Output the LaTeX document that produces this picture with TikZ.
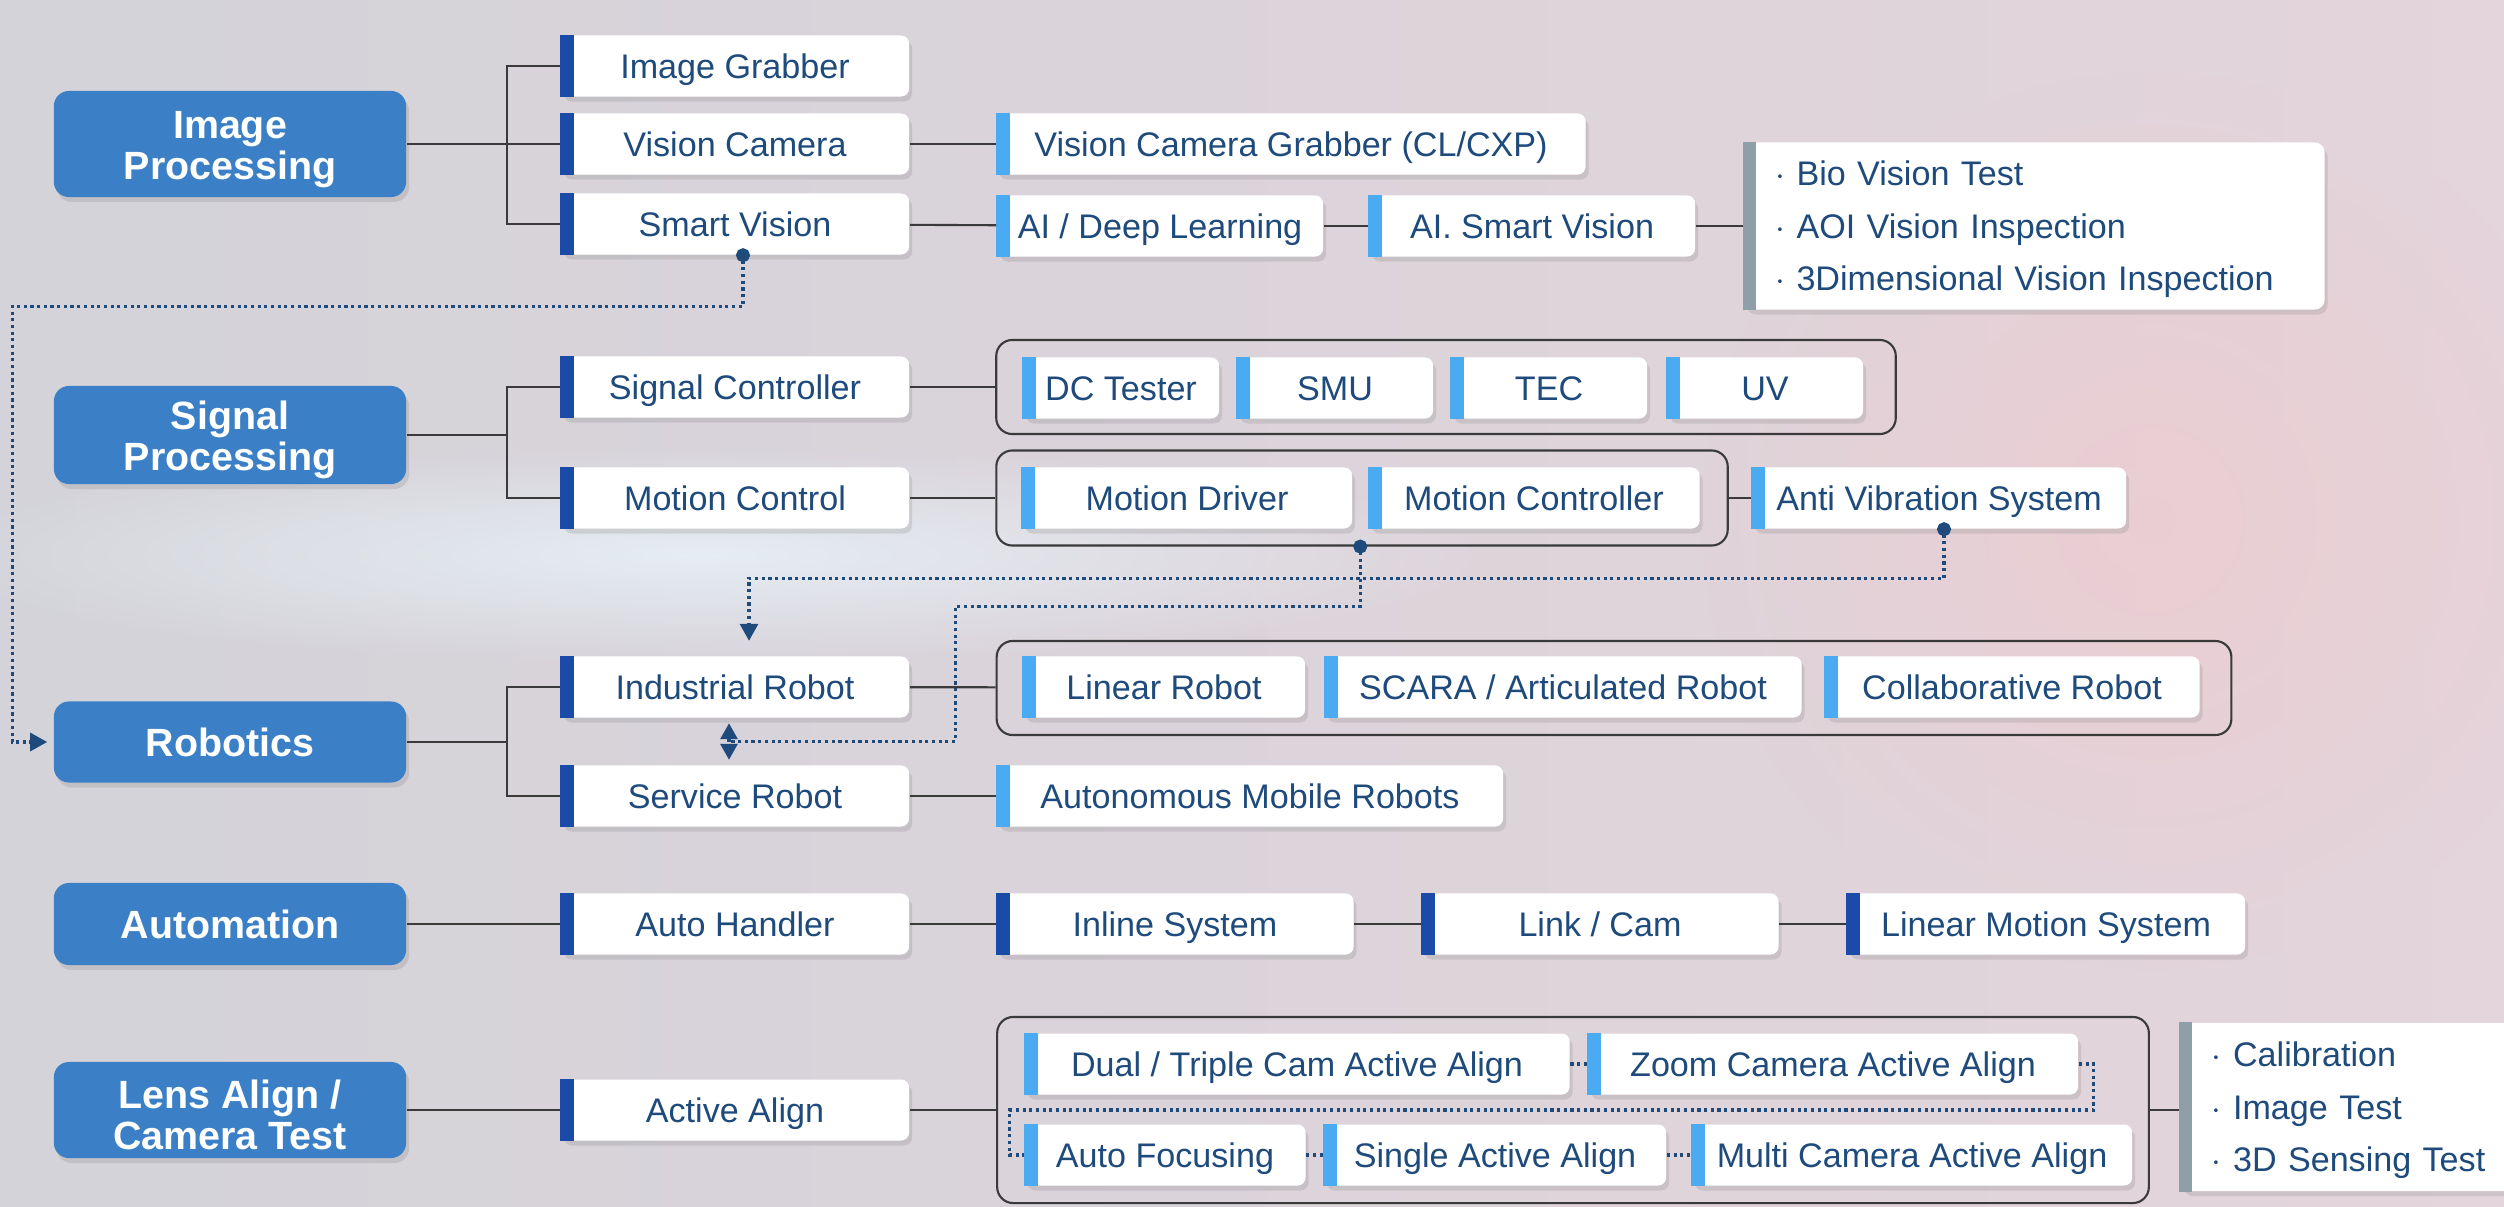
\documentclass[tikz,border=0pt]{standalone}
\usepackage{fontspec}
\setmainfont{Liberation Sans}
\usepackage{xcolor}
\usetikzlibrary{arrows.meta, positioning, calc, shadows, fadings}

\definecolor{catblue}{HTML}{3B80C6}
\definecolor{darkbar}{HTML}{1B4BA8}
\definecolor{lightbar}{HTML}{4BABF2}
\definecolor{notebar}{HTML}{8F9FA9}
\definecolor{navy}{HTML}{1E4A7C}
\definecolor{linegray}{HTML}{3A3A3A}
\definecolor{bgleft}{HTML}{D3D3D9}
\definecolor{bgright}{HTML}{E4D4DB}
\definecolor{haze}{HTML}{EAF6FB}

\tikzfading[name=glow, inner color=transparent!0, outer color=transparent!100]

\newcommand{\headfont}{\fontsize{11.2}{11.8}\selectfont\bfseries}
\newcommand{\itemfont}{\fontsize{9.7}{11}\selectfont}
\newcommand{\notefont}{\fontsize{9.7}{14.9}\selectfont}

\tikzset{
    softshadow/.style={drop shadow={shadow xshift=0.03cm, shadow yshift=-0.05cm, opacity=0.22}},
    category/.style={rectangle, rounded corners=0.15cm, fill=catblue, text=white, font=\headfont, align=center, minimum width=3.52cm, inner sep=0pt, softshadow},
    item/.style={rectangle, rounded corners=0.08cm, fill=white, text=navy, font=\itemfont, minimum height=0.61cm, inner sep=0pt, text height=6.9pt, text depth=0pt, softshadow},
    branch/.style={item, minimum width=3.48cm},
    groupbox/.style={rectangle, rounded corners=0.16cm, draw=linegray, line width=0.6pt, inner sep=0pt},
    notebox/.style={rectangle, rounded corners=0.1cm, fill=white, text=navy, font=\notefont, align=left, inner xsep=0.32cm, inner ysep=0pt, softshadow},
    link/.style={draw=linegray, line width=0.6pt},
    dotlink/.style={draw=navy, densely dotted, line width=0.9pt},
    dotarrow/.style={dotlink, {Circle[length=0.14cm]}-{Triangle[length=0.17cm, width=0.18cm]}}
}

\begin{document}
\begin{tikzpicture}[x=0.01cm, y=-0.01cm]
    \useasboundingbox (0,0) rectangle (2504,1206);

    % Backdrop
    \fill[left color=bgleft, right color=bgright] (0,0) rectangle (2504,1206);
    \fill[haze, opacity=0.75, path fading=glow] (700,555) ellipse [x radius=8cm, y radius=1.1cm];
    \fill[pink, opacity=0.3, path fading=glow] (2150,520) circle [radius=4.5cm];

    % Categories
    \node[category, minimum height=1.06cm] (imgproc) at (230,144) {\rule{0pt}{11pt}Image\\Processing};
    \node[category, minimum height=0.98cm] (sigproc) at (230,435) {\rule{0pt}{11pt}Signal\\Processing};
    \node[category, minimum height=0.81cm] (robotics) at (230,742) {Robotics};
    \node[category, minimum height=0.82cm] (automation) at (230,924) {Automation};
    \node[category, minimum height=0.96cm] (lensalign) at (230,1110) {\rule{0pt}{11pt}Lens Align /\\Camera Test};

    % Group frames
    \node[groupbox, minimum width=8.99cm, minimum height=0.94cm] (sigframe) at (1446,387) {};
    \node[groupbox, minimum width=7.31cm, minimum height=0.95cm] (motionframe) at (1362,498) {};
    \node[groupbox, minimum width=12.34cm, minimum height=0.94cm] (robotframe) at (1614,688) {};
    \node[groupbox, minimum width=11.51cm, minimum height=1.86cm] (lensframe) at (1573,1110) {};

    % Image Processing
    \node[branch] (grabber) at (735,66) {Image Grabber};
    \node[branch] (viscam) at (735,144) {Vision Camera};
    \node[branch] (smartvis) at (735,224) {Smart Vision};
    \node[item, minimum width=5.89cm] (camgrabber) at (1291,144) {Vision Camera Grabber (CL/CXP)};
    \node[item, minimum width=3.26cm] (deeplearn) at (1160,226) {AI / Deep Learning};
    \node[item, minimum width=3.26cm] (aismart) at (1532,226) {AI. Smart Vision};
    \node[notebox, text width=5.17cm, minimum height=1.67cm] (visiontests) at (2034,226)
        {\rule{0pt}{9pt}$\cdot$ Bio Vision Test\\$\cdot$ AOI Vision Inspection\\$\cdot$ 3Dimensional Vision Inspection};

    % Signal Processing
    \node[branch] (sigctrl) at (735,387) {Signal Controller};
    \node[branch] (motionctrl) at (735,498) {Motion Control};
    \node[item, minimum width=1.96cm] (dctester) at (1121,388) {DC Tester};
    \node[item, minimum width=1.96cm] (smu) at (1335,388) {SMU};
    \node[item, minimum width=1.96cm] (tec) at (1549,388) {TEC};
    \node[item, minimum width=1.96cm] (uv) at (1765,388) {UV};
    \node[item, minimum width=3.30cm] (motiondriver) at (1187,498) {Motion Driver};
    \node[item, minimum width=3.31cm] (motioncontroller) at (1534,498) {Motion Controller};
    \node[item, minimum width=3.74cm] (antivib) at (1939,498) {Anti Vibration System};

    % Robotics
    \node[branch] (indrobot) at (735,687) {Industrial Robot};
    \node[branch] (servrobot) at (735,796) {Service Robot};
    \node[item, minimum width=2.82cm] (linrobot) at (1164,687) {Linear Robot};
    \node[item, minimum width=4.77cm] (scara) at (1563,687) {SCARA / Articulated Robot};
    \node[item, minimum width=3.75cm] (collab) at (2012,687) {Collaborative Robot};
    \node[item, minimum width=5.06cm] (amr) at (1250,796) {Autonomous Mobile Robots};

    % Automation
    \node[branch] (autohandler) at (735,924) {Auto Handler};
    \node[item, minimum width=3.57cm] (inline) at (1175,924) {Inline System};
    \node[item, minimum width=3.57cm] (linkcam) at (1600,924) {Link / Cam};
    \node[item, minimum width=3.98cm] (linmotion) at (2046,924) {Linear Motion System};

    % Lens Align / Camera Test
    \node[branch] (activealign) at (735,1110) {Active Align};
    \node[item, minimum width=5.45cm] (dualcam) at (1297,1064) {Dual / Triple Cam Active Align};
    \node[item, minimum width=4.90cm] (zoomcam) at (1833,1064) {Zoom Camera Active Align};
    \node[item, minimum width=2.81cm] (autofocus) at (1165,1155) {Auto Focusing};
    \node[item, minimum width=3.42cm] (singlealign) at (1495,1155) {Single Active Align};
    \node[item, minimum width=4.40cm] (multicam) at (1912,1155) {Multi Camera Active Align};
    \node[notebox, text width=2.76cm, minimum height=1.68cm] (camtests) at (2350,1107)
        {\rule{0pt}{9pt}$\cdot$ Calibration\\$\cdot$ Image Test\\$\cdot$ 3D Sensing Test};

    % Side bars
    \foreach \n in {grabber, viscam, smartvis, sigctrl, motionctrl, indrobot, servrobot,
                    autohandler, activealign, inline, linkcam, linmotion}
        \fill[darkbar] (\n.south west) rectangle ([xshift=0.14cm]\n.north west);
    \foreach \n in {camgrabber, deeplearn, aismart, dctester, smu, tec, uv, motiondriver,
                    motioncontroller, antivib, linrobot, scara, collab, amr,
                    dualcam, zoomcam, autofocus, singlealign, multicam}
        \fill[lightbar] (\n.south west) rectangle ([xshift=0.14cm]\n.north west);
    \foreach \n in {visiontests, camtests}
        \fill[notebar] (\n.south west) rectangle ([xshift=0.13cm]\n.north west);

    % Tree links
    \draw[link] (imgproc.east) -- ++(100,0) |- (grabber);
    \draw[link] (imgproc.east) -- ++(100,0) |- (smartvis);
    \draw[link] (imgproc) -- (viscam);
    \draw[link] (sigproc.east) -- ++(100,0) |- (sigctrl);
    \draw[link] (sigproc.east) -- ++(100,0) |- (motionctrl);
    \draw[link] (robotics.east) -- ++(100,0) |- (indrobot);
    \draw[link] (robotics.east) -- ++(100,0) |- (servrobot);

    % Links between items
    \draw[link] (viscam) -- (camgrabber);
    \draw[link] (smartvis) -- (deeplearn);
    \draw[link] (deeplearn) -- (aismart);
    \draw[link] (aismart) -- (aismart -| visiontests.west);
    \draw[link] (sigctrl) -- (sigctrl -| sigframe.west);
    \draw[link] (motionctrl) -- (motionframe);
    \draw[link] (motionframe) -- (antivib);
    \draw[link] (indrobot) -- (robotframe);
    \draw[link] (servrobot) -- (amr);
    \draw[link] (automation) -- (autohandler);
    \draw[link] (autohandler) -- (inline);
    \draw[link] (inline) -- (linkcam);
    \draw[link] (linkcam) -- (linmotion);
    \draw[link] (lensalign) -- (activealign);
    \draw[link] (activealign) -- (lensframe);
    \draw[link] (lensframe) -- (camtests.west |- lensframe);

    % Dotted cross links
    \coordinate (mgap) at ($(motiondriver.east)!.5!(motioncontroller.west)$);
    \coordinate (rjoint) at ($([xshift=-0.06cm]indrobot.south)!.5!([xshift=-0.06cm]servrobot.north)$);
    \draw[dotarrow] ([xshift=0.08cm, yshift=0.07cm]smartvis.south) -- ++(0,58)
        -| ([xshift=-0.41cm]robotics.west) -- ([xshift=-0.06cm]robotics.west);
    \draw[dotlink, {Circle[length=0.14cm]}-] ([yshift=0.07cm]mgap |- motionframe.south) -- ++(0,67)
        -| ([xshift=2.26cm]rjoint) -- (rjoint);
    \draw[dotarrow] ([xshift=0.05cm, yshift=0.07cm]antivib.south) -- ++(0,56)
        -| ([xshift=0.14cm, yshift=0.15cm]indrobot.north);
    \draw[dotlink, {Triangle[length=0.16cm, width=0.17cm]}-{Triangle[length=0.16cm, width=0.17cm]}]
        ([xshift=-0.06cm, yshift=-0.05cm]indrobot.south) -- ([xshift=-0.06cm, yshift=0.05cm]servrobot.north);

    \draw[dotlink] (dualcam) -- (zoomcam);
    \draw[dotlink] (zoomcam.east) -- ++(15,0) |- (lensframe.center)
        -| ([xshift=-0.14cm]autofocus.west) -- (autofocus.west);
    \draw[dotlink] (autofocus) -- (singlealign);
    \draw[dotlink] (singlealign) -- (multicam);
\end{tikzpicture}
\end{document}
